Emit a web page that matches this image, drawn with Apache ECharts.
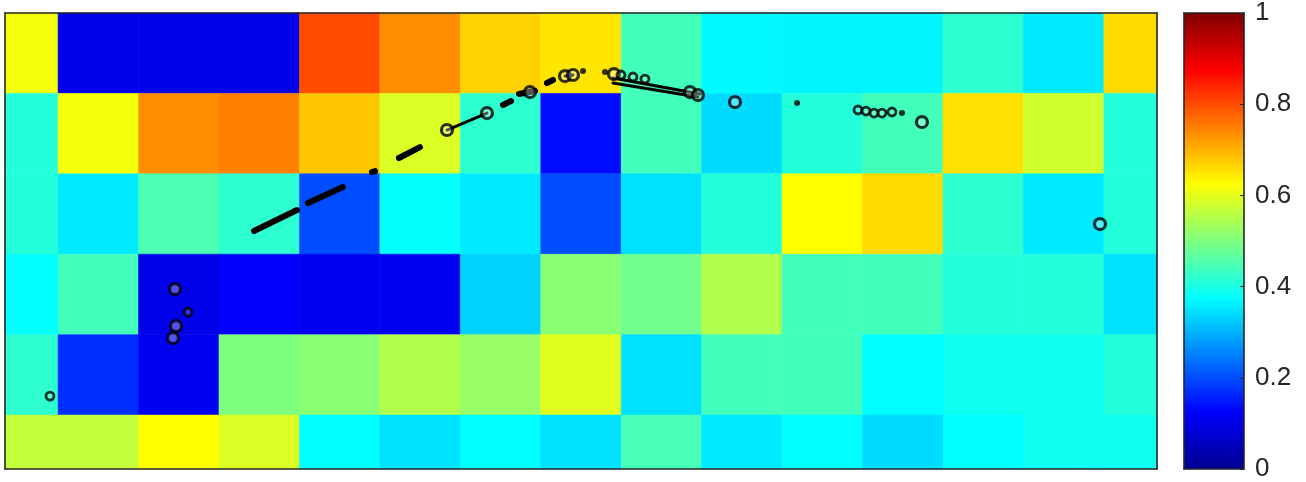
<!DOCTYPE html>
<html><head><meta charset="utf-8">
<script src="https://cdn.jsdelivr.net/npm/echarts@6/dist/echarts.min.js"></script>
<style>html,body{margin:0;padding:0;background:#fff}#c{width:1306px;height:482px}</style>
</head><body><div id="c"></div>
<script>
// ---- data ----
const columns = [1,2,3,4,5,6,7,8,9,10,11,12,13,14,15];
const rows = [1,2,3,4,5,6];
const row1 = [0.615,0.10,0.10,0.10,0.80,0.735,0.67,0.65,0.44,0.37,0.365,0.365,0.42,0.355,0.66];
const row2 = [0.41,0.615,0.735,0.75,0.68,0.59,0.42,0.135,0.44,0.34,0.41,0.44,0.655,0.58,0.41];
const row3 = [0.41,0.355,0.45,0.42,0.20,0.38,0.355,0.20,0.345,0.41,0.625,0.66,0.42,0.355,0.41];
const row4 = [0.375,0.44,0.10,0.12,0.11,0.11,0.33,0.51,0.485,0.55,0.44,0.44,0.41,0.41,0.345];
const row5 = [0.42,0.17,0.11,0.50,0.51,0.55,0.525,0.595,0.345,0.44,0.44,0.375,0.39,0.39,0.41];
const row6 = [0.565,0.565,0.625,0.59,0.375,0.345,0.375,0.345,0.445,0.355,0.375,0.34,0.375,0.39,0.39];
const colorbarTicks = [0,0.2,0.4,0.6,0.8,1];
const jetColors = ['#00008F','#0000FF','#007FFF','#00FFFF','#7FFF7F','#FFFF00','#FF7F00','#FF0000','#800000'];

const thickSegments = [
  [[3.935,3.211],[4.470,2.950]],
  [[4.606,2.863],[5.041,2.664]],
  [[5.402,2.478],[5.440,2.466]],
  [[5.737,2.303],[5.998,2.167]],
  [[7.030,1.644],[7.130,1.595]],
  [[7.229,1.507],[7.428,1.470]],
  [[7.577,1.371],[7.652,1.333]]
];
const thinSegments = [
  [[6.334,1.955],[6.831,1.744]],
  [[7.801,1.284],[7.900,1.271]],
  [[8.398,1.308],[9.479,1.507]],
  [[8.398,1.371],[9.454,1.545]]
];
const bigCircles = [[6.334,1.955],[6.831,1.744],[7.366,1.483],[7.801,1.284],[7.900,1.271],[8.410,1.259],
  [9.355,1.483],[9.454,1.520],[9.914,1.607],[12.238,1.856],[14.451,3.124],[2.953,3.933],[2.966,4.393],[2.928,4.542]];
const smallCircles = [[8.497,1.271],[8.646,1.296],[8.795,1.321],[11.443,1.706],[11.542,1.719],[11.642,1.744],
  [11.741,1.744],[11.865,1.731],[1.399,5.264],[3.115,4.219]];
const dots = [[10.685,1.619],[11.990,1.744],[8.025,1.221],[8.298,1.234]];

// ---- build ----
const grid = [row1,row2,row3,row4,row5,row6];
const cells = [];
rows.forEach((r,ri)=>columns.forEach((c,ci)=>cells.push([c,r,grid[ri][ci]])));

const FONT = "'Liberation Sans', Arial, sans-serif";
const edge = {show:true, onZero:false, lineStyle:{color:'#262626', width:1.6}};
function frameAxis(gi, pos, min, max, extra){
  return Object.assign({gridIndex:gi, type:'value', position:pos, min:min, max:max, axisLine:edge,
    axisTick:{show:false}, axisLabel:{show:false}, splitLine:{show:false}, z:10}, extra||{});
}

const chart = echarts.init(document.getElementById('c'), null, {renderer:'canvas'});
const lineSeries = [];
thickSegments.forEach(s=>lineSeries.push({type:'line', data:s, symbol:'none', silent:true, z:5,
  lineStyle:{color:'#000', width:6, cap:'round'}}));
thinSegments.forEach(s=>lineSeries.push({type:'line', data:s, symbol:'none', silent:true, z:5,
  lineStyle:{color:'#000', width:3, cap:'round'}}));

chart.setOption({
  animation:false,
  backgroundColor:'#fff',
  grid:[
    {left:5, top:13, width:1152, height:456},
    {left:1184, top:13, width:60, height:456}
  ],
  xAxis:[
    frameAxis(0,'bottom',0.84,15.16),
    frameAxis(0,'top',0.84,15.16),
    frameAxis(1,'bottom',0,1),
    frameAxis(1,'top',0,1)
  ],
  yAxis:[
    frameAxis(0,'left',0.5,6.17,{inverse:true}),
    frameAxis(0,'right',0.5,6.17,{inverse:true}),
    frameAxis(1,'right',colorbarTicks[0],colorbarTicks[colorbarTicks.length-1],{
      interval:0.2,
      axisTick:{show:true, inside:true, length:4, lineStyle:{color:'#262626', width:1}},
      axisLabel:{show:true, fontSize:26, color:'#262626', margin:11, fontFamily:FONT}
    }),
    frameAxis(1,'left',0,1)
  ],
  visualMap:{type:'continuous', show:false, min:0, max:1, dimension:2, seriesIndex:0,
    inRange:{color:jetColors}},
  series:[
    {type:'custom', xAxisIndex:0, yAxisIndex:0, data:cells, encode:{x:0,y:1}, silent:true, z:1,
      renderItem:function(params, api){
        const x=api.value(0), y=api.value(1);
        const p1=api.coord([x-0.5,y-0.5]), p2=api.coord([x+0.5,y+0.5]);
        const rect={x:Math.min(p1[0],p2[0]), y:Math.min(p1[1],p2[1]),
          width:Math.abs(p2[0]-p1[0]), height:Math.abs(p2[1]-p1[1])};
        const cs=params.coordSys;
        const cl=echarts.graphic.clipRectByRect(rect,{x:cs.x,y:cs.y,width:cs.width,height:cs.height});
        if(!cl) return;
        const col=api.visual('color');
        return {type:'rect', shape:cl, style:{fill:col, stroke:col, lineWidth:0.6}};
      }},
    {type:'custom', xAxisIndex:2, yAxisIndex:2, data:[[0,0]], silent:true, z:1,
      renderItem:function(params, api){
        const p1=api.coord([0,0]), p2=api.coord([1,1]);
        const stops=jetColors.map((c,i)=>({offset:i/(jetColors.length-1), color:c}));
        return {type:'rect', shape:{x:p1[0], y:p2[1], width:p2[0]-p1[0], height:p1[1]-p2[1]},
          style:{fill:new echarts.graphic.LinearGradient(0,1,0,0,stops)}};
      }},
    ...lineSeries,
    {type:'scatter', data:bigCircles, symbol:'circle', symbolSize:11, silent:true, z:6,
      itemStyle:{color:'rgba(255,255,255,0.4)', borderColor:'#000', borderWidth:3.2}},
    {type:'scatter', data:smallCircles, symbol:'circle', symbolSize:8, silent:true, z:6,
      itemStyle:{color:'rgba(255,255,255,0.25)', borderColor:'#000', borderWidth:2.8}},
    {type:'scatter', data:dots, symbol:'circle', symbolSize:6, silent:true, z:6,
      itemStyle:{color:'#000'}}
  ]
});
</script></body></html>
